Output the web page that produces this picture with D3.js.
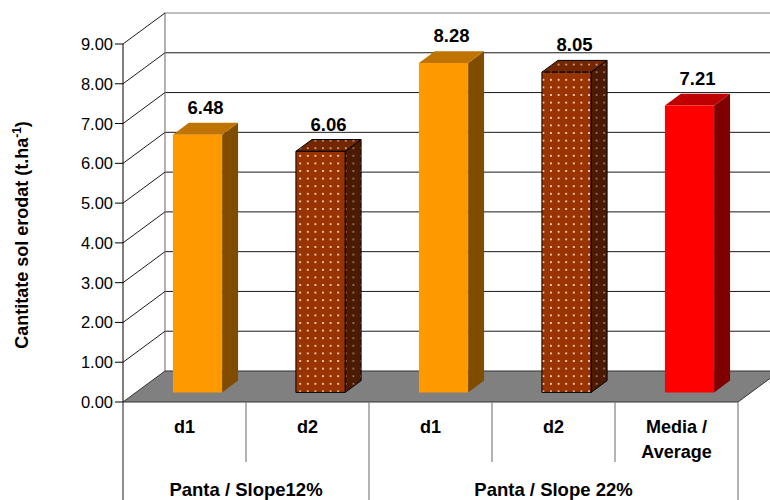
<!DOCTYPE html>
<html>
<head>
<meta charset="utf-8">
<script src="https://cdn.jsdelivr.net/npm/d3@7"></script>
<style>
  html, body { margin: 0; padding: 0; background: #fff; }
  svg { display: block; font-family: "Liberation Sans", Arial, sans-serif; }
</style>
</head>
<body>
<svg id="chart" width="770" height="500"></svg>
<script>
// Eroded soil quantity per treatment, on two slopes, plus the overall mean
const categories = ["d1", "d2", "d1", "d2", "Media /|Average"];
const values = [6.48, 6.06, 8.28, 8.05, 7.21];
const seriesKind = ["d1", "d2", "d1", "d2", "avg"];
const groupLabels = ["Panta / Slope12%", "Panta / Slope 22%"];
const groupSizes = [2, 3];
const yTicks = [0, 1, 2, 3, 4, 5, 6, 7, 8, 9];
const axisTitle = "Cantitate sol erodat (t.ha";
const axisTitleSup = "-1";

const svg = d3.select("#chart");

// Front plane scales; depth is an oblique offset towards the back wall
const x = d3.scaleBand().domain(d3.range(categories.length)).range([123, 738]).paddingInner(0).paddingOuter(0);
const y = d3.scaleLinear().domain([0, 9]).range([402, 44]);
const DX = 42, DY = -31;
const proj = (px, v, z) => [px + z * DX, y(v) + z * DY];
const Z0 = 0.31, Z1 = 0.69;
const barW = x.bandwidth() * 0.4;

const fills = {
  d1:  { front: "#FF9900", top: "#BF7300", side: "#7F4C00", stroke: "none" },
  d2:  { front: "url(#dotsFront)", top: "url(#dotsTop)", side: "url(#dotsSide)", stroke: "#000" },
  avg: { front: "#FF0000", top: "#BF0000", side: "#7F0000", stroke: "none" }
};

// Dotted fill for the d2 bars
const defs = svg.append("defs");
function dotPattern(id, bg, dot) {
  const p = defs.append("pattern").attr("id", id).attr("patternUnits", "userSpaceOnUse")
    .attr("width", 7.6).attr("height", 7.6);
  p.append("rect").attr("width", 7.6).attr("height", 7.6).attr("fill", bg);
  p.append("circle").attr("cx", 3.8).attr("cy", 3.8).attr("r", 1.05).attr("fill", dot);
}
dotPattern("dotsFront", "#993300", "#FFEBDC");
dotPattern("dotsTop", "#732600", "#D8B4A0");
dotPattern("dotsSide", "#4C1A00", "#A08070");

const line = d3.line();
const x0 = x.range()[0], x1 = x.range()[1];

// Back wall
const wall = svg.append("g");
wall.append("rect")
  .attr("x", proj(x0, 9, 1)[0]).attr("y", proj(x0, 9, 1)[1])
  .attr("width", x1 - x0).attr("height", y(0) - y(9))
  .attr("fill", "#fff");
wall.selectAll("line.grid").data(yTicks.filter(v => v > 0 && v < 9)).join("line")
  .attr("x1", d => proj(x0, d, 1)[0]).attr("x2", d => proj(x1, d, 1)[0])
  .attr("y1", d => proj(x0, d, 1)[1]).attr("y2", d => proj(x1, d, 1)[1])
  .attr("stroke", "#1a1a1a").attr("stroke-width", 1);
wall.append("path")
  .attr("d", line([proj(x0, 0, 1), proj(x0, 9, 1), proj(x1, 9, 1)]))
  .attr("fill", "none").attr("stroke", "#808080").attr("stroke-width", 1.2);

// Side wall lines
wall.selectAll("line.side").data(yTicks.filter(v => v > 0)).join("line")
  .attr("x1", d => proj(x0, d, 0)[0]).attr("y1", d => proj(x0, d, 0)[1])
  .attr("x2", d => proj(x0, d, 1)[0]).attr("y2", d => proj(x0, d, 1)[1])
  .attr("stroke", "#1a1a1a").attr("stroke-width", 1);

// Floor
svg.append("path")
  .attr("d", line([proj(x0, 0, 0), proj(x1, 0, 0), proj(x1, 0, 1), proj(x0, 0, 1)]) + "Z")
  .attr("fill", "#808080").attr("stroke", "#333").attr("stroke-width", 1);

// Bars
const bars = svg.append("g").selectAll("g").data(values).join("g");
bars.each(function (v, i) {
  const g = d3.select(this);
  const f = fills[seriesKind[i]];
  const xl = x(i) + (x.bandwidth() - barW) / 2, xr = xl + barW;
  const side = [proj(xr, 0, Z0), proj(xr, 0, Z1), proj(xr, v, Z1), proj(xr, v, Z0)];
  const top = [proj(xl, v, Z0), proj(xr, v, Z0), proj(xr, v, Z1), proj(xl, v, Z1)];
  const front = [proj(xl, 0, Z0), proj(xr, 0, Z0), proj(xr, v, Z0), proj(xl, v, Z0)];
  [[side, f.side], [top, f.top], [front, f.front]].forEach(([pts, fill]) => {
    g.append("path").attr("d", line(pts) + "Z").attr("fill", fill)
      .attr("stroke", f.stroke).attr("stroke-width", 1).attr("stroke-linejoin", "round");
  });
  const cx = proj(xl + barW / 2, v, (Z0 + Z1) / 2)[0];
  const cy = proj(xl, v, Z1)[1];
  g.append("text").attr("x", cx).attr("y", cy - 9)
    .attr("text-anchor", "middle").attr("font-weight", "bold").attr("font-size", 18.5)
    .attr("fill", "#000").text(d3.format(".2f")(v));
});

// Value axis
const axis = svg.append("g");
axis.append("line").attr("x1", x0).attr("x2", x0).attr("y1", y(9)).attr("y2", y(0))
  .attr("stroke", "#000").attr("stroke-width", 1);
axis.selectAll("line.tick").data(yTicks).join("line")
  .attr("x1", x0 - 8).attr("x2", x0).attr("y1", d => y(d)).attr("y2", d => y(d))
  .attr("stroke", "#000").attr("stroke-width", 1);
axis.selectAll("text").data(yTicks).join("text")
  .attr("x", x0 - 10).attr("y", d => y(d) + 6)
  .attr("text-anchor", "end").attr("font-size", 16.5).attr("fill", "#000")
  .text(d3.format(".2f"));

const title = svg.append("text")
  .attr("transform", `translate(28,${(y(0) + y(9)) / 2 + 12}) rotate(-90)`)
  .attr("text-anchor", "middle").attr("font-weight", "bold").attr("font-size", 18).attr("fill", "#000");
title.append("tspan").text(axisTitle);
title.append("tspan").attr("font-size", 12).attr("dy", -7).text(axisTitleSup);
title.append("tspan").attr("dy", 7).text(")");

// Category axis with grouped labels
const cat = svg.append("g");
const edges = [0];
groupSizes.reduce((a, s) => { edges.push(a + s); return a + s; }, 0);
d3.range(categories.length + 1).forEach(i => {
  const px = i < categories.length ? x(i) : x1;
  const long = edges.includes(i);
  cat.append("line").attr("x1", px).attr("x2", px)
    .attr("y1", y(0)).attr("y2", long ? 500 : 462)
    .attr("stroke", i === 0 ? "#404040" : "#808080").attr("stroke-width", 1.2);
});
categories.forEach((c, i) => {
  const lines = c.split("|");
  const t = cat.append("text").attr("text-anchor", "middle").attr("font-weight", "bold")
    .attr("font-size", 18).attr("fill", "#000");
  lines.forEach((l, k) => t.append("tspan").attr("x", x(i) + x.bandwidth() / 2)
    .attr("y", 433 + k * 25).text(l));
});
let start = 0;
groupLabels.forEach((g, k) => {
  const a = x(start), b = start + groupSizes[k] < categories.length ? x(start + groupSizes[k]) : x1;
  cat.append("text").attr("x", (a + b) / 2).attr("y", 496)
    .attr("text-anchor", "middle").attr("font-weight", "bold").attr("font-size", 18.5)
    .attr("fill", "#000").text(g);
  start += groupSizes[k];
});
</script>
</body>
</html>
